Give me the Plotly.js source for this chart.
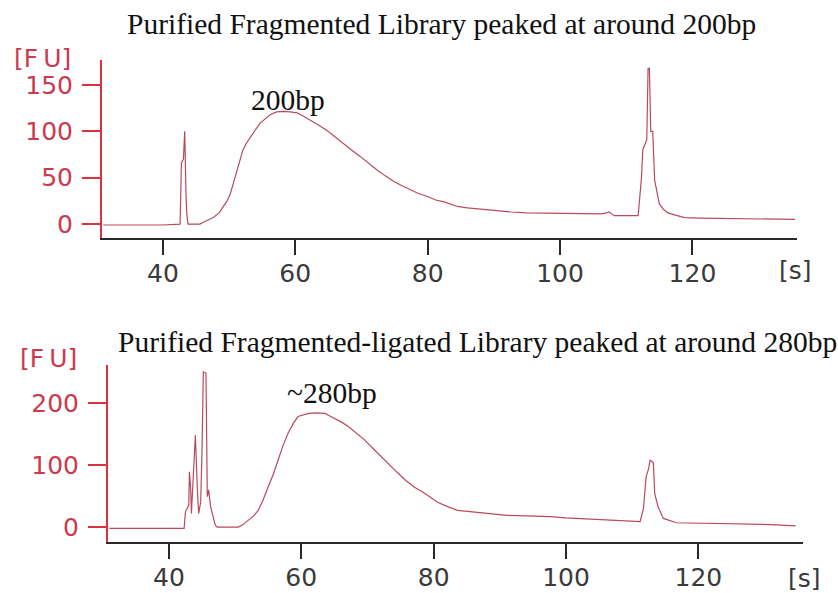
<!DOCTYPE html>
<html>
<head>
<meta charset="utf-8">
<script src="https://cdn.plot.ly/plotly-3.0.1.min.js"></script>
<style>html,body{margin:0;padding:0;background:#fff;}#chart{width:838px;height:593px;}</style>
</head>
<body>
<div id="chart"></div>
<script>
// Top electropherogram: fragmented library
const topTime = [31,34,37,40,42.6,42.8,43.1,43.3,43.5,43.6,43.8,45.6,46.1,47.6,48.5,49.1,49.7,50.2,50.7,51.2,51.7,52.1,52.6,53.2,54,54.7,55.5,56.2,57.2,58.2,59.2,60.3,61.3,62.3,63.5,64.8,66,67.3,68.5,69.8,71,72.4,73.6,74.9,76.2,77.4,78.6,79.9,81.2,82.5,84.5,86,88,90,92.6,95,99,102,106.2,107,107.4,107.8,108.2,111.8,112.3,112.5,113.1,113.3,113.5,113.7,114.0,114.3,114.6,115,115.6,116.3,117.3,118.8,121,126.9,130,135.5];
const topFU = [-1,-1,-0.5,-1,0,66,70,100,30,12,0,0,2,7,12,19,25,33,45,58,70,80,87,94,102,109,114,118,121,121.5,121,120,116,112,107,101,94,87,80,73,66,58,52,46,41,37,33,30,26,24,19,17.5,16,14.5,13,12,11.5,11,11,12,13,11,9,9,50,80,91,168,168,100,100,47,35,22,16,12,10,7,6.5,6,5.5,5];

// Bottom electropherogram: fragmented-ligated library
const botTime = [31,35,38,41,42.3,42.5,42.8,43.0,43.1,43.3,43.4,43.7,44.0,44.3,44.5,44.8,45.0,45.2,45.6,45.8,46.0,46.3,46.7,47.0,47.3,50.5,51.2,52,52.8,53.5,54.2,55,55.8,56.5,57.2,58,58.8,59.5,60.3,61.1,62.3,63.6,64.3,65.1,66.1,67.1,68.3,69.6,70.8,72.1,73.3,74.6,75.8,77.1,78.4,79.6,80.6,82.1,83.6,85.5,87.6,89.5,91.1,94,97.6,100,102,104.2,108,111.2,111.7,112.1,112.5,112.7,113.2,113.4,113.9,114.7,116.7,122.7,127.7,131,134.7];
const botFU = [-2,-2,-1.5,-2,-2,25,30,35,89,60,22,90,148,60,22,40,120,250,248,49,60,33,15,3,0,0,4,11,18,27,43,65,86,108,130,151,167,178,181,183,184,183,179,175,169,162,151,140,127,113,100,87,75,64,56,48,40,33,27,25,23,21,19,18,17,15,14,12,10,9,30,81,95,108,103,54,33,14,7,6,5,4,2];

const xTicks = [40,60,80,100,120];
const topYTicks = [0,50,100,150];
const botYTicks = [0,100,200];

const titles = ["Purified Fragmented Library peaked at around 200bp",
                "Purified Fragmented-ligated Library peaked at around 280bp"];
const peakLabels = ["200bp", "~280bp"];

const lineColor = '#b84a5c';
const redAxis = '#e0303e';
const redText = '#cc3a4e';
const darkAxis = '#2a2a2a';
const tickFont = {family: 'DejaVu Sans, Verdana, sans-serif', size: 25, color: '#3a3a3a'};
const yTickFont = {family: 'DejaVu Sans, Verdana, sans-serif', size: 25, color: redText};

const traces = [
  {x: topTime, y: topFU, type: 'scatter', mode: 'lines', xaxis: 'x', yaxis: 'y',
   line: {color: lineColor, width: 1.2}, hoverinfo: 'skip'},
  {x: botTime, y: botFU, type: 'scatter', mode: 'lines', xaxis: 'x2', yaxis: 'y2',
   line: {color: lineColor, width: 1.2}, hoverinfo: 'skip'}
];

function xAxis(domain, anchor) {
  return {domain: domain, anchor: anchor, range: [30.8, 135.8], showline: true, linecolor: darkAxis, linewidth: 2,
    showgrid: false, zeroline: false, ticks: 'outside', ticklen: 15, tickwidth: 2, tickcolor: darkAxis,
    tickvals: xTicks, tickfont: tickFont, ticklabelstandoff: -3};
}
function yAxis(domain, anchor, range, tv) {
  return {domain: domain, anchor: anchor, range: range, showline: true, linecolor: redAxis, linewidth: 2,
    showgrid: false, zeroline: false, ticks: 'outside', ticklen: 18, tickwidth: 2, tickcolor: redAxis,
    tickvals: tv, tickfont: yTickFont, ticklabelstandoff: 4};
}

const serif = {family: 'Liberation Serif, Times New Roman, serif', size: 29.5, color: '#111'};
const fuFont = {family: 'DejaVu Sans, sans-serif', size: 25, color: redText};
const layout = {
  width: 838, height: 593, margin: {l: 0, r: 0, t: 0, b: 0},
  paper_bgcolor: '#fff', plot_bgcolor: '#fff', showlegend: false,
  xaxis: xAxis([0.1217, 0.9511], 'y'),
  yaxis: yAxis([0.5987, 0.8988], 'x', [-15, 177], topYTicks),
  xaxis2: xAxis([0.1289, 0.9582], 'y2'),
  yaxis2: yAxis([0.0860, 0.3845], 'x2', [-24, 261], botYTicks),
  annotations: [
    {text: titles[0], xref: 'paper', yref: 'paper', x: 442/838, y: 1 - 24/593, showarrow: false, font: serif, xanchor: 'center', yanchor: 'middle'},
    {text: titles[1], xref: 'paper', yref: 'paper', x: 478/838, y: 1 - 342/593, showarrow: false, font: serif, xanchor: 'center', yanchor: 'middle'},
    {text: peakLabels[0], xref: 'paper', yref: 'paper', x: 288/838, y: 1 - 100/593, showarrow: false, font: serif, xanchor: 'center', yanchor: 'middle'},
    {text: peakLabels[1], xref: 'paper', yref: 'paper', x: 332/838, y: 1 - 393/593, showarrow: false, font: serif, xanchor: 'center', yanchor: 'middle'},
    {text: '[F\u2009U]', xref: 'paper', yref: 'paper', x: 42/838, y: 1 - 58/593, showarrow: false, font: fuFont, xanchor: 'center', yanchor: 'middle'},
    {text: '[F\u2009U]', xref: 'paper', yref: 'paper', x: 48/838, y: 1 - 358/593, showarrow: false, font: fuFont, xanchor: 'center', yanchor: 'middle'},
    {text: '[s]', xref: 'paper', yref: 'paper', x: 795/838, y: 1 - 270/593, showarrow: false, font: tickFont, xanchor: 'center', yanchor: 'middle'},
    {text: '[s]', xref: 'paper', yref: 'paper', x: 804/838, y: 1 - 578/593, showarrow: false, font: tickFont, xanchor: 'center', yanchor: 'middle'}
  ]
};

Plotly.newPlot('chart', traces, layout, {staticPlot: true, displayModeBar: false});
</script>
</body>
</html>
